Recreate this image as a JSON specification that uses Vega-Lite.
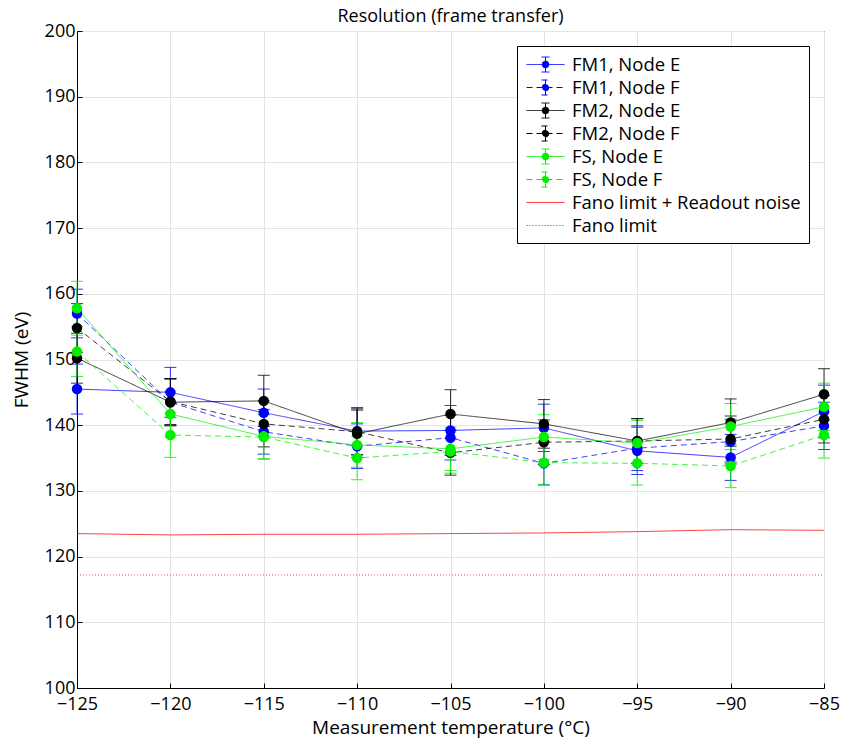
{
  "$schema": "https://vega.github.io/schema/vega-lite/v6.json",
  "width": 747,
  "height": 657,
  "autosize": "none",
  "padding": {"left": 77, "top": 31, "right": 18, "bottom": 52},
  "title": {"text": "Resolution (frame transfer)", "fontSize": 18, "fontWeight": "normal", "font": "Open Sans", "offset": -4, "color": "black"},
  "config": {
    "font": "Open Sans",
    "view": {"stroke": "black", "strokeWidth": 1},
    "axis": {"labelFontSize": 18, "titleFontSize": 19, "titleFontWeight": "normal", "labelColor": "black", "titleColor": "black", "domainColor": "black", "tickColor": "black", "gridColor": "#e3e3e3", "labelFont": "Open Sans", "titleFont": "Open Sans"}
  },
  "data": {"values": [
    {"series": "FM1, Node E", "t": -125, "v": 145.5, "err": 3.8},
    {"series": "FM1, Node E", "t": -120, "v": 145.0, "err": 3.8},
    {"series": "FM1, Node E", "t": -115, "v": 141.9, "err": 3.6},
    {"series": "FM1, Node E", "t": -110, "v": 139.1, "err": 3.6},
    {"series": "FM1, Node E", "t": -105, "v": 139.2, "err": 3.8},
    {"series": "FM1, Node E", "t": -100, "v": 139.6, "err": 3.6},
    {"series": "FM1, Node E", "t": -95, "v": 136.1, "err": 3.6},
    {"series": "FM1, Node E", "t": -90, "v": 135.1, "err": 3.5},
    {"series": "FM1, Node E", "t": -85, "v": 142.1, "err": 4.0},
    {"series": "FM1, Node F", "t": -125, "v": 157.0, "err": 3.7},
    {"series": "FM1, Node F", "t": -120, "v": 143.5, "err": 3.5},
    {"series": "FM1, Node F", "t": -115, "v": 139.0, "err": 3.4},
    {"series": "FM1, Node F", "t": -110, "v": 136.8, "err": 3.4},
    {"series": "FM1, Node F", "t": -105, "v": 138.1, "err": 3.4},
    {"series": "FM1, Node F", "t": -100, "v": 134.2, "err": 3.3},
    {"series": "FM1, Node F", "t": -95, "v": 136.5, "err": 3.4},
    {"series": "FM1, Node F", "t": -90, "v": 137.5, "err": 3.4},
    {"series": "FM1, Node F", "t": -85, "v": 139.9, "err": 3.6},
    {"series": "FM2, Node E", "t": -125, "v": 150.2, "err": 3.8},
    {"series": "FM2, Node E", "t": -120, "v": 143.5, "err": 3.6},
    {"series": "FM2, Node E", "t": -115, "v": 143.7, "err": 3.9},
    {"series": "FM2, Node E", "t": -110, "v": 138.7, "err": 3.6},
    {"series": "FM2, Node E", "t": -105, "v": 141.7, "err": 3.7},
    {"series": "FM2, Node E", "t": -100, "v": 140.2, "err": 3.7},
    {"series": "FM2, Node E", "t": -95, "v": 137.6, "err": 3.4},
    {"series": "FM2, Node E", "t": -90, "v": 140.4, "err": 3.6},
    {"series": "FM2, Node E", "t": -85, "v": 144.7, "err": 3.9},
    {"series": "FM2, Node F", "t": -125, "v": 154.8, "err": 3.7},
    {"series": "FM2, Node F", "t": -120, "v": 143.6, "err": 3.5},
    {"series": "FM2, Node F", "t": -115, "v": 140.2, "err": 3.5},
    {"series": "FM2, Node F", "t": -110, "v": 139.0, "err": 3.5},
    {"series": "FM2, Node F", "t": -105, "v": 135.8, "err": 3.4},
    {"series": "FM2, Node F", "t": -100, "v": 137.4, "err": 3.4},
    {"series": "FM2, Node F", "t": -95, "v": 137.6, "err": 3.4},
    {"series": "FM2, Node F", "t": -90, "v": 137.9, "err": 3.5},
    {"series": "FM2, Node F", "t": -85, "v": 140.9, "err": 3.6},
    {"series": "FS, Node E", "t": -125, "v": 157.8, "err": 4.1},
    {"series": "FS, Node E", "t": -120, "v": 141.7, "err": 3.5},
    {"series": "FS, Node E", "t": -115, "v": 138.3, "err": 3.4},
    {"series": "FS, Node E", "t": -110, "v": 137.0, "err": 3.4},
    {"series": "FS, Node E", "t": -105, "v": 136.4, "err": 3.3},
    {"series": "FS, Node E", "t": -100, "v": 138.2, "err": 3.4},
    {"series": "FS, Node E", "t": -95, "v": 137.3, "err": 3.4},
    {"series": "FS, Node E", "t": -90, "v": 139.8, "err": 3.5},
    {"series": "FS, Node E", "t": -85, "v": 142.8, "err": 3.6},
    {"series": "FS, Node F", "t": -125, "v": 151.2, "err": 3.8},
    {"series": "FS, Node F", "t": -120, "v": 138.5, "err": 3.4},
    {"series": "FS, Node F", "t": -115, "v": 138.2, "err": 3.4},
    {"series": "FS, Node F", "t": -110, "v": 135.0, "err": 3.3},
    {"series": "FS, Node F", "t": -105, "v": 136.0, "err": 3.3},
    {"series": "FS, Node F", "t": -100, "v": 134.3, "err": 3.3},
    {"series": "FS, Node F", "t": -95, "v": 134.2, "err": 3.3},
    {"series": "FS, Node F", "t": -90, "v": 133.8, "err": 3.3},
    {"series": "FS, Node F", "t": -85, "v": 138.5, "err": 3.5},
    {"series": "Fano limit + Readout noise", "t": -125, "v": 123.5},
    {"series": "Fano limit + Readout noise", "t": -120, "v": 123.3},
    {"series": "Fano limit + Readout noise", "t": -115, "v": 123.4},
    {"series": "Fano limit + Readout noise", "t": -110, "v": 123.4},
    {"series": "Fano limit + Readout noise", "t": -105, "v": 123.5},
    {"series": "Fano limit + Readout noise", "t": -100, "v": 123.6},
    {"series": "Fano limit + Readout noise", "t": -95, "v": 123.8},
    {"series": "Fano limit + Readout noise", "t": -90, "v": 124.1},
    {"series": "Fano limit + Readout noise", "t": -85, "v": 124.0},
    {"series": "Fano limit", "t": -125, "v": 117.2},
    {"series": "Fano limit", "t": -120, "v": 117.2},
    {"series": "Fano limit", "t": -115, "v": 117.2},
    {"series": "Fano limit", "t": -110, "v": 117.2},
    {"series": "Fano limit", "t": -105, "v": 117.2},
    {"series": "Fano limit", "t": -100, "v": 117.2},
    {"series": "Fano limit", "t": -95, "v": 117.2},
    {"series": "Fano limit", "t": -90, "v": 117.2},
    {"series": "Fano limit", "t": -85, "v": 117.2}
  ]},
  "encoding": {
    "x": {"field": "t", "type": "quantitative", "title": "Measurement temperature (°C)",
      "scale": {"domain": [-125, -85], "nice": false},
      "axis": {"values": [-125, -120, -115, -110, -105, -100, -95, -90, -85], "tickSize": -5, "labelPadding": 12, "titlePadding": 5, "labelFlush": false}},
    "y": {"field": "v", "type": "quantitative", "title": "FWHM (eV)",
      "scale": {"domain": [100, 200], "nice": false, "zero": false},
      "axis": {"values": [100, 110, 120, 130, 140, 150, 160, 170, 180, 190, 200], "tickSize": -5, "labelPadding": 7, "titlePadding": 13}},
    "color": {"field": "series", "type": "nominal",
      "scale": {"domain": ["FM1, Node E", "FM1, Node F", "FM2, Node E", "FM2, Node F", "FS, Node E", "FS, Node F", "Fano limit + Readout noise", "Fano limit"],
        "range": ["#0000ff", "#0000ff", "#000000", "#000000", "#00f000", "#00f000", "#ff0000", "#ff0000"]},
      "legend": {"title": null, "orient": "top-right", "offset": 15, "strokeColor": "black", "fillColor": "white", "padding": 8, "cornerRadius": 0,
        "labelFontSize": 18.5, "labelFont": "Open Sans", "labelColor": "black", "labelLimit": 400, "rowPadding": 3, "labelOffset": 26, "symbolSize": 400,
        "encode": {"symbols": {"update": {
          "size": {"value": 400},
          "opacity": {"value": 1},
          "strokeOpacity": {"value": 1},
          "strokeWidth": [{"test": "indexof(datum.value, 'Readout') >= 0", "value": 2.5}, {"value": 1}],
          "stroke": [{"test": "indexof(datum.value, 'Fano') >= 0", "value": "#ff2020"}, {"scale": "color", "field": "value"}],
          "fill": {"scale": "color", "field": "value"}
        }}}}
    }
  },
  "layer": [
    {
      "transform": [{"filter": "datum.err != null"}],
      "mark": {"type": "errorbar", "ticks": {"size": 12}, "thickness": 1, "opacity": 0.8},
      "encoding": {"y": {"field": "v", "type": "quantitative"}, "yError": {"field": "err"}}
    },
    {
      "mark": {"type": "line", "opacity": 0.75},
      "encoding": {
        "strokeDash": {"field": "series", "type": "nominal",
          "scale": {"domain": ["FM1, Node E", "FM1, Node F", "FM2, Node E", "FM2, Node F", "FS, Node E", "FS, Node F", "Fano limit + Readout noise", "Fano limit"],
            "range": [[1, 0], [6, 4], [1, 0], [6, 4], [1, 0], [6, 4], [1, 0], [1, 2]]}},
        "strokeWidth": {"field": "series", "type": "nominal", "legend": null,
          "scale": {"domain": ["FM1, Node E", "FM1, Node F", "FM2, Node E", "FM2, Node F", "FS, Node E", "FS, Node F", "Fano limit + Readout noise", "Fano limit"],
            "range": [1, 1, 1, 1, 1, 1, 1.5, 1]}}
      }
    },
    {
      "transform": [{"filter": "datum.err != null"}],
      "mark": {"type": "point", "filled": true, "size": 110, "opacity": 1, "shape": "circle"}
    },
    {
      "mark": {"type": "point", "filled": true, "opacity": 0},
      "encoding": {
        "shape": {"field": "series", "type": "nominal",
          "scale": {"domain": ["FM1, Node E", "FM1, Node F", "FM2, Node E", "FM2, Node F", "FS, Node E", "FS, Node F", "Fano limit + Readout noise", "Fano limit"],
            "range": [
              "M-0.9,0H2.9M1,-0.75V0.75M0.6,-0.75H1.4M0.6,0.75H1.4M1.35,0L1.25,0.25L1,0.35L0.75,0.25L0.65,0L0.75,-0.25L1,-0.35L1.25,-0.25Z",
              "M-0.9,0H2.9M1,-0.75V0.75M0.6,-0.75H1.4M0.6,0.75H1.4M1.35,0L1.25,0.25L1,0.35L0.75,0.25L0.65,0L0.75,-0.25L1,-0.35L1.25,-0.25Z",
              "M-0.9,0H2.9M1,-0.75V0.75M0.6,-0.75H1.4M0.6,0.75H1.4M1.35,0L1.25,0.25L1,0.35L0.75,0.25L0.65,0L0.75,-0.25L1,-0.35L1.25,-0.25Z",
              "M-0.9,0H2.9M1,-0.75V0.75M0.6,-0.75H1.4M0.6,0.75H1.4M1.35,0L1.25,0.25L1,0.35L0.75,0.25L0.65,0L0.75,-0.25L1,-0.35L1.25,-0.25Z",
              "M-0.9,0H2.9M1,-0.75V0.75M0.6,-0.75H1.4M0.6,0.75H1.4M1.35,0L1.25,0.25L1,0.35L0.75,0.25L0.65,0L0.75,-0.25L1,-0.35L1.25,-0.25Z",
              "M-0.9,0H2.9M1,-0.75V0.75M0.6,-0.75H1.4M0.6,0.75H1.4M1.35,0L1.25,0.25L1,0.35L0.75,0.25L0.65,0L0.75,-0.25L1,-0.35L1.25,-0.25Z",
              "M-0.9,0H2.9",
              "M-0.9,0H2.9"
            ]}}
      }
    }
  ]
}
